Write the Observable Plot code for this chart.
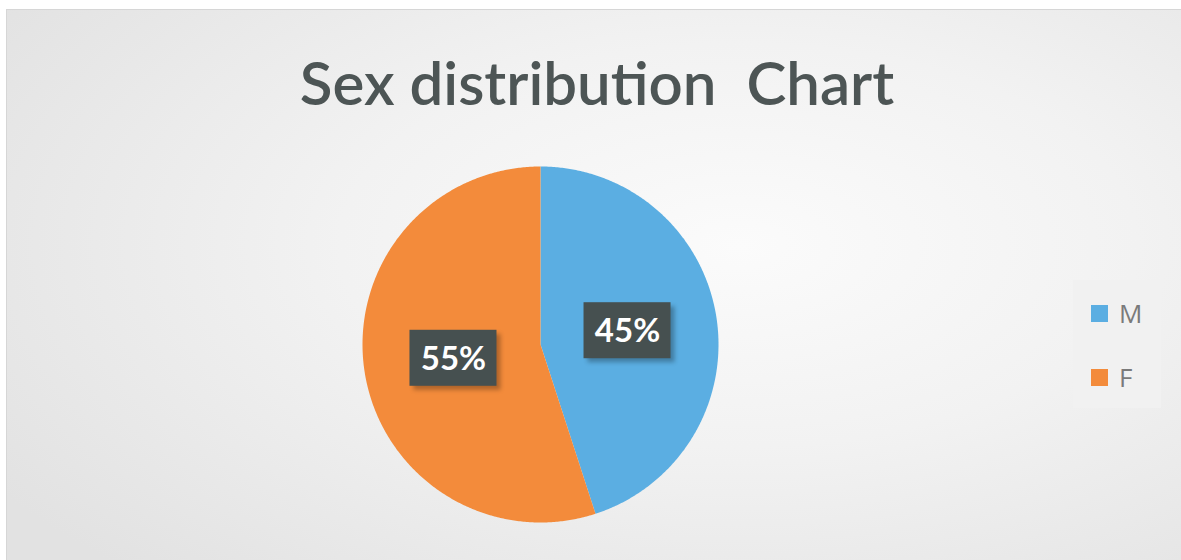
<!DOCTYPE html>
<html>
<head>
<meta charset="utf-8">
<script src="https://cdn.jsdelivr.net/npm/d3@7"></script>
<script src="https://cdn.jsdelivr.net/npm/@observablehq/plot@0.6"></script>
<style>
  html, body { margin: 0; padding: 0; background: #ffffff; }
  #frame {
    position: relative; width: 1181px; height: 560px; overflow: hidden;
    background: #ffffff;
  }
  #card {
    position: absolute; left: 6px; top: 9px; width: 1180px; height: 560px;
    border-left: 1px solid #d6d6d6; border-top: 1px solid #d6d6d6;
    background: radial-gradient(ellipse 75% 80% at 62% 42%, #fbfbfb 0%, #f2f2f2 45%, #e2e2e2 100%);
  }
  #title {
    position: absolute; left: 0; top: 46px; width: 1194px; text-align: center;
    font-family: Lato, "Open Sans", sans-serif; font-size: 60px; font-weight: 600;
    color: #4d5555; white-space: pre; letter-spacing: 0px;
  }
  #chart { position: absolute; left: 0; top: 140px; }
  #legend {
    position: absolute; left: 1073px; top: 280px; width: 88px; height: 128px;
    background: #f1f1f1; font-family: "Open Sans", sans-serif; font-size: 26px; color: #7a7a7a;
  }
  .item { position: absolute; left: 18px; display: flex; align-items: center; height: 30px; }
  .sw { width: 17px; height: 17px; margin-right: 11px; }
</style>
</head>
<body>
<div id="frame">
  <div id="card"></div>
  <div id="title"></div>
  <div id="chart"></div>
  <div id="legend"></div>
</div>
<script>
// ---- data ----
const title = "Sex distribution  Chart";
const categories = ["M", "F"];
const percents = [45, 55];
const colors = ["#5BAEE2", "#F38B3B"];
const labels = ["45%", "55%"];

// ---- geometry (pixel units in data space) ----
const R = 178;
const total = d3.sum(percents);
let acc = 0;
const slices = categories.map((c, i) => {
  const a0 = acc / total * 2 * Math.PI;
  acc += percents[i];
  const a1 = acc / total * 2 * Math.PI;
  return {sex: c, a0, a1, label: labels[i]};
});
const poly = [];
for (const s of slices) {
  poly.push({sex: s.sex, x: 0, y: 0});
  const n = Math.ceil((s.a1 - s.a0) / (Math.PI / 360));
  for (let k = 0; k <= n; k++) {
    const a = s.a0 + (s.a1 - s.a0) * k / n;
    poly.push({sex: s.sex, x: R * Math.sin(a), y: R * Math.cos(a)});
  }
  poly.push({sex: s.sex, x: 0, y: 0});
}
const lab = slices.map(s => {
  const m = (s.a0 + s.a1) / 2;
  const cx = 0.495 * R * Math.sin(m), cy = 0.495 * R * Math.cos(m);
  return {sex: s.sex, label: s.label, x: cx, y: cy,
          x1: cx - 43.5, x2: cx + 43.5, y1: cy - 28, y2: cy + 28};
});

document.getElementById("title").textContent = title;

const W = 1181, H = 420;
const plot = Plot.plot({
  width: W, height: H,
  margin: 0,
  style: {background: "transparent", overflow: "visible"},
  x: {domain: [-540, W - 540], axis: null},
  y: {domain: [-(H - 204), 204], axis: null},
  color: {domain: categories, range: colors},
  marks: [
    Plot.line(poly, {x: "x", y: "y", z: "sex", fill: "sex", stroke: "none", curve: "linear"}),
    Plot.rect(lab, {x1: d => d.x1 + 4, x2: d => d.x2 + 4, y1: d => d.y1 - 4, y2: d => d.y2 - 4, fill: "#000", fillOpacity: 0.28}),
    Plot.rect(lab, {x1: "x1", x2: "x2", y1: "y1", y2: "y2", fill: "#465050"}),
    Plot.text(lab, {x: "x", y: "y", text: "label", fill: "white", fontSize: 33, fontWeight: "bold",
                    fontFamily: "Lato, 'Open Sans', sans-serif", dy: 1})
  ]
});
document.getElementById("chart").appendChild(plot);
// soften the label shadows
d3.select(plot).selectAll("g[aria-label=rect]").filter((d, i) => i === 0).style("filter", "blur(2px)");

// legend
const leg = document.getElementById("legend");
categories.forEach((c, i) => {
  const it = document.createElement("div");
  it.className = "item";
  it.style.top = (i === 0 ? 18 : 82) + "px";
  it.innerHTML = `<div class="sw" style="background:${colors[i]}"></div><span>${c}</span>`;
  leg.appendChild(it);
});
</script>
</body>
</html>
